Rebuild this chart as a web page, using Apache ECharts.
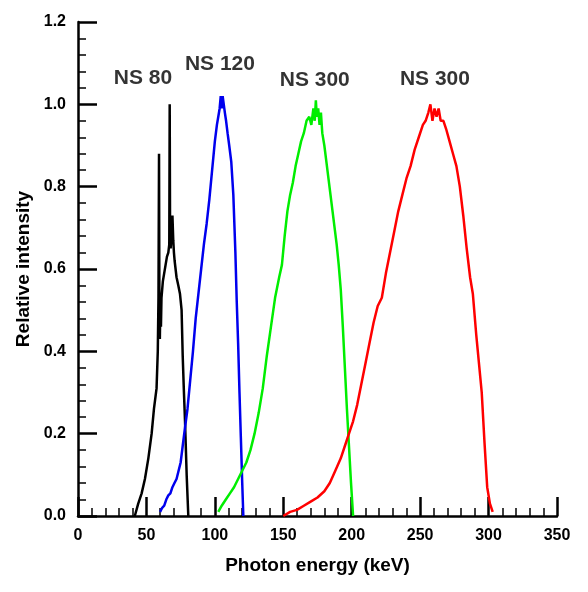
<!DOCTYPE html>
<html>
<head>
<meta charset="utf-8">
<script src="https://cdn.jsdelivr.net/npm/echarts@6/dist/echarts.min.js"></script>
<style>html,body{margin:0;padding:0;background:#fff}#c{width:588px;height:592px}</style>
</head>
<body>
<div id="c"></div>
<script>
// ---- Data ----
const ns80X = [41.5, 44, 46.5, 48.9, 51.4, 53.8, 55.5, 57.4, 58.3, 58.8, 59.2, 59.5, 59.8, 60.2, 60.6, 61, 61.5, 62, 63, 64, 65, 66, 66.7, 67.0, 67.3, 67.7, 68.3, 69, 69.6, 70.1, 70.6, 72, 73.3, 74.5, 75.7, 76.5, 77.3, 78.2, 79.4, 80.6];
const ns80Y = [0, 0.03, 0.055, 0.09, 0.14, 0.20, 0.26, 0.31, 0.40, 0.53, 0.88, 0.47, 0.43, 0.52, 0.46, 0.53, 0.55, 0.57, 0.59, 0.61, 0.63, 0.64, 0.66, 1.0, 0.66, 0.65, 0.68, 0.73, 0.67, 0.64, 0.62, 0.58, 0.56, 0.54, 0.50, 0.39, 0.31, 0.23, 0.10, 0.0];

const ns120X = [60, 61.5, 63, 64.5, 66, 67.5, 69, 70.5, 72, 73.5, 75, 76.5, 78, 80, 82, 84, 86, 88, 90, 92, 94, 96, 98, 100, 101.5, 102.5, 103.5, 104.3, 105, 105.7, 106.5, 107.3, 108.2, 109.3, 110.5, 112, 113.5, 115, 116, 117, 118, 119, 120, 120.8];
const ns120Y = [0.01, 0.02, 0.025, 0.04, 0.05, 0.055, 0.07, 0.08, 0.09, 0.11, 0.13, 0.17, 0.21, 0.26, 0.33, 0.40, 0.48, 0.54, 0.60, 0.66, 0.71, 0.77, 0.84, 0.91, 0.95, 0.97, 0.99, 1.02, 0.99, 1.02, 1.0, 0.98, 0.96, 0.93, 0.90, 0.86, 0.78, 0.64, 0.52, 0.42, 0.30, 0.19, 0.08, 0.0];

const ns300aX = [102.5, 105, 108, 111, 114, 117, 120, 123, 126, 129, 132, 135, 138, 141, 144, 147, 149, 151, 153, 155, 157, 159, 161, 163, 165, 167, 169, 170.5, 172, 173, 173.8, 174.5, 175.5, 176.5, 177.5, 178.5, 180, 181.5, 183, 184.5, 186, 187.5, 189, 190.5, 192, 193.5, 195, 196.5, 198, 199.5, 201];
const ns300aY = [0.01, 0.025, 0.04, 0.055, 0.07, 0.09, 0.11, 0.13, 0.16, 0.20, 0.25, 0.31, 0.39, 0.46, 0.53, 0.58, 0.61, 0.68, 0.74, 0.78, 0.81, 0.85, 0.88, 0.91, 0.93, 0.96, 0.97, 0.95, 0.99, 0.96, 1.01, 0.97, 0.99, 0.95, 0.98, 0.93, 0.90, 0.86, 0.82, 0.78, 0.74, 0.70, 0.66, 0.61, 0.55, 0.46, 0.36, 0.26, 0.17, 0.08, 0.0];

const ns300bX = [150, 155, 160, 165, 170, 175, 180, 184, 188, 192, 195, 198, 201, 204, 207, 210, 213, 216, 219, 222, 225, 228, 231, 234, 237, 240, 243, 246, 249, 252, 254, 256, 257.5, 259, 260.5, 262, 263.5, 265, 267, 269, 271.5, 274, 276.5, 279, 281.5, 284, 286.5, 288.5, 291, 293, 295, 297, 299, 301, 303];
const ns300bY = [0, 0.01, 0.015, 0.025, 0.035, 0.045, 0.06, 0.08, 0.11, 0.14, 0.17, 0.20, 0.23, 0.27, 0.32, 0.37, 0.42, 0.47, 0.51, 0.53, 0.59, 0.64, 0.69, 0.74, 0.78, 0.82, 0.85, 0.89, 0.92, 0.95, 0.96, 0.98, 1.0, 0.96, 0.99, 0.97, 0.99, 0.96, 0.96, 0.94, 0.91, 0.88, 0.85, 0.80, 0.73, 0.65, 0.58, 0.54, 0.44, 0.37, 0.30, 0.18, 0.07, 0.03, 0.01];

const labelText = ['NS 80', 'NS 120', 'NS 300', 'NS 300'];
const labelX = [47.5, 103.7, 173, 260.8];
const labelY = [1.063, 1.097, 1.058, 1.061];

const xTicks = [0, 50, 100, 150, 200, 250, 300, 350];
const yTicks = [0.0, 0.2, 0.4, 0.6, 0.8, 1.0, 1.2];

// ---- Build ----
const FONT = '"Liberation Sans", Arial, sans-serif';
function pairs(xs, ys) { return xs.map((x, i) => [x, ys[i]]); }
function lineSeries(name, xs, ys, color) {
  return {
    name, type: 'line', data: pairs(xs, ys), showSymbol: false, symbol: 'none',
    lineStyle: { color, width: 2.5 }, animation: false, z: 3
  };
}
const axisCommon = {
  type: 'value',
  axisLine: { show: true, lineStyle: { color: '#000', width: 2.5 } },
  axisTick: { show: true, inside: true, length: 19, lineStyle: { color: '#000', width: 2.5 } },
  minorTick: { show: true, splitNumber: 5, length: 8, lineStyle: { color: '#000', width: 1.5 } },
  splitLine: { show: false },
  minorSplitLine: { show: false },
  nameLocation: 'middle',
  nameTextStyle: { fontFamily: FONT, fontWeight: 'bold', fontSize: 19, color: '#000' }
};
const chart = echarts.init(document.getElementById('c'), null, { renderer: 'canvas' });
chart.setOption({
  backgroundColor: '#fff',
  animation: false,
  grid: { left: 78, right: 31, top: 22, bottom: 76, containLabel: false, outerBoundsMode: 'none' },
  xAxis: Object.assign({}, axisCommon, {
    min: xTicks[0], max: xTicks[xTicks.length - 1], interval: 50,
    name: 'Photon energy (keV)', nameGap: 40,
    axisLabel: { fontFamily: FONT, fontWeight: 'bold', fontSize: 16, color: '#000', margin: 12,
      formatter: v => String(v) }
  }),
  yAxis: Object.assign({}, axisCommon, {
    min: yTicks[0], max: yTicks[yTicks.length - 1], interval: 0.2,
    name: 'Relative intensity', nameGap: 45,
    axisLabel: { fontFamily: FONT, fontWeight: 'bold', fontSize: 16, color: '#000', margin: 12,
      formatter: v => v.toFixed(1) }
  }),
  series: [
    lineSeries('NS 80', ns80X, ns80Y, '#000000'),
    lineSeries('NS 120', ns120X, ns120Y, '#0000ee'),
    lineSeries('NS 300 a', ns300aX, ns300aY, '#00ee00'),
    lineSeries('NS 300 b', ns300bX, ns300bY, '#ff0000'),
    {
      type: 'scatter', symbolSize: 0, silent: true, animation: false, z: 5,
      data: labelX.map((x, i) => ({ value: [x, labelY[i]], name: labelText[i] })),
      label: { show: true, position: 'inside', formatter: p => p.name,
        fontFamily: FONT, fontWeight: 'bold', fontSize: 21, color: '#000',
        textBorderWidth: 0 }
    }
  ]
});
</script>
</body>
</html>
